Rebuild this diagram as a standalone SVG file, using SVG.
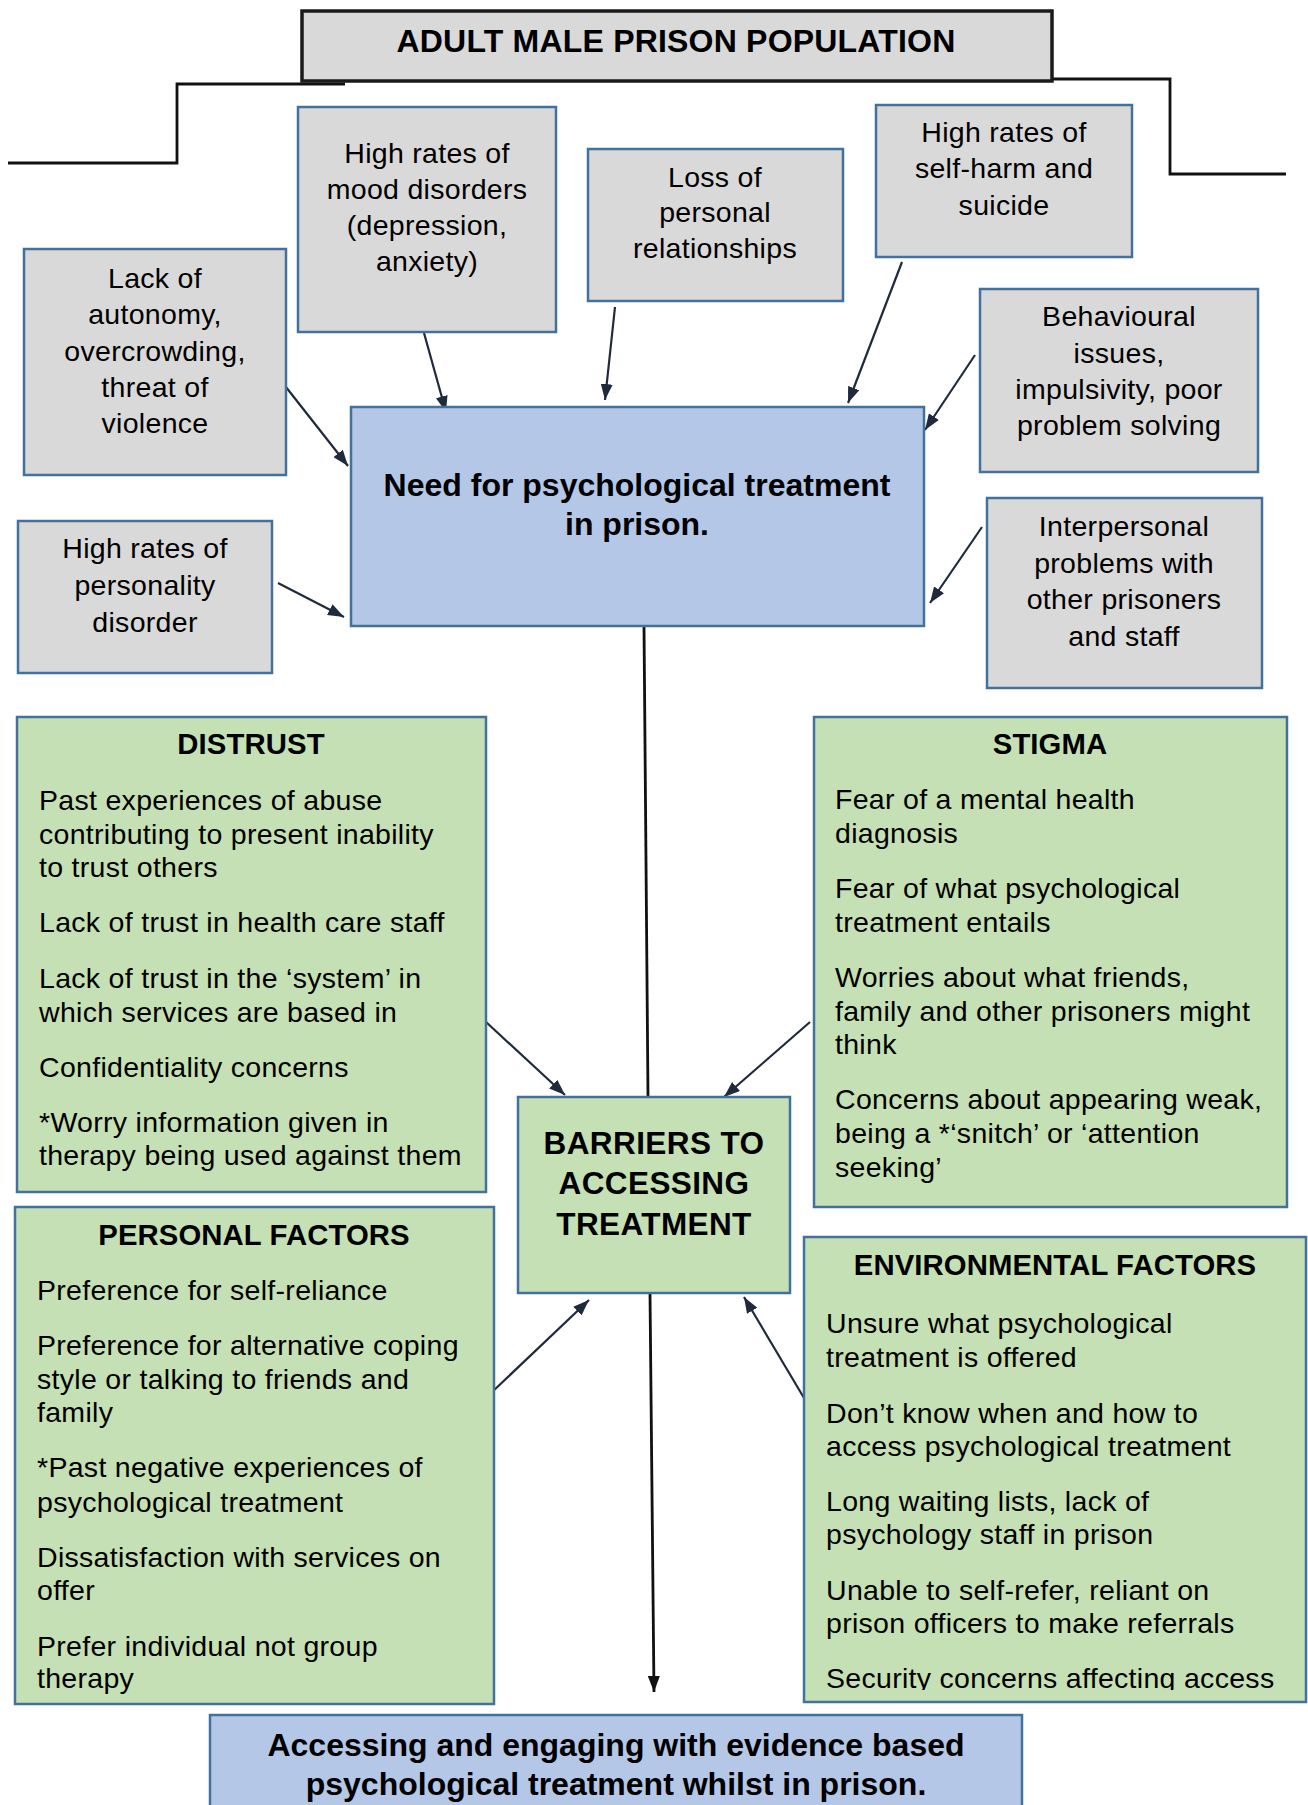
<svg xmlns="http://www.w3.org/2000/svg" width="1308" height="1805" viewBox="0 0 1308 1805">
<style>
.t{font-family:"Liberation Sans",Arial,sans-serif;font-size:28.5px;letter-spacing:0.3px;fill:#000}
.c{text-anchor:middle}
.h{font-family:"Liberation Sans",Arial,sans-serif;font-weight:bold;font-size:29.3px;letter-spacing:0.1px;fill:#000;text-anchor:middle}
.big{font-family:"Liberation Sans",Arial,sans-serif;font-weight:bold;font-size:32px;fill:#000;text-anchor:middle}
.gray{fill:#d9d9d9;stroke:#41719c;stroke-width:2.5}
.green{fill:#c5e0b4;stroke:#41719c;stroke-width:2.5}
.blue{fill:#b4c7e7;stroke:#41719c;stroke-width:2.5}
.arr{fill:none;stroke:#1f2a3c;stroke-width:2.2;marker-end:url(#ah)}
.blk{fill:none;stroke:#111;stroke-width:2.8}
</style>
<defs>
<marker id="ah" viewBox="0 0 16 12" refX="16" refY="6" markerWidth="16" markerHeight="12" markerUnits="userSpaceOnUse" orient="auto">
<path d="M0,0 L16,6 L0,12 z" fill="#1f2a3c"/>
</marker>
<marker id="ahb" viewBox="0 0 16 12" refX="16" refY="6" markerWidth="16" markerHeight="12" markerUnits="userSpaceOnUse" orient="auto">
<path d="M0,0 L16,6 L0,12 z" fill="#111"/>
</marker>
<clipPath id="envclip"><rect x="800" y="1230" width="510" height="460"/></clipPath>
</defs>
<rect width="1308" height="1805" fill="#fff"/>

<g id="connectors">
<polyline class="blk" points="8,163 177,163 177,84 345,84"/>
<polyline class="blk" points="1052,79 1170,79 1170,174 1286,174"/>
<line class="arr" x1="424" y1="333" x2="446" y2="412"/>
<line class="arr" x1="615" y1="307" x2="605" y2="400"/>
<line class="arr" x1="902" y1="262" x2="848" y2="403"/>
<line class="arr" x1="975" y1="355" x2="925" y2="430"/>
<line class="arr" x1="282" y1="382" x2="348" y2="466"/>
<line class="arr" x1="278" y1="583" x2="344" y2="617"/>
<line class="arr" x1="982" y1="527" x2="930" y2="603"/>
<line class="blk" x1="644" y1="626" x2="648" y2="1097"/>
<line class="arr" x1="486" y1="1022" x2="565" y2="1095"/>
<line class="arr" x1="810" y1="1022" x2="724" y2="1097"/>
<line class="arr" x1="491" y1="1393" x2="589" y2="1300"/>
<line class="arr" x1="804" y1="1398" x2="744" y2="1297"/>
<line class="blk" x1="650" y1="1293" x2="654" y2="1692" style="marker-end:url(#ahb)"/>
</g>

<g id="title">
<rect x="302" y="11" width="750" height="70" fill="#d9d9d9" stroke="#1a1a1a" stroke-width="3.5"/>
<text class="big" x="676" y="52" style="font-size:32px;letter-spacing:0.2px">ADULT MALE PRISON POPULATION</text>
</g>

<g id="mood">
<rect class="gray" x="298" y="107" width="258" height="225"/>
<text class="t c" x="427" y="163">High rates of</text>
<text class="t c" x="427" y="199">mood disorders</text>
<text class="t c" x="427" y="235">(depression,</text>
<text class="t c" x="427" y="271">anxiety)</text>
</g>

<g id="autonomy">
<rect class="gray" x="24" y="249" width="262" height="226"/>
<text class="t c" x="155" y="288">Lack of</text>
<text class="t c" x="155" y="324">autonomy,</text>
<text class="t c" x="155" y="361">overcrowding,</text>
<text class="t c" x="155" y="397">threat of</text>
<text class="t c" x="155" y="433">violence</text>
</g>

<g id="loss">
<rect class="gray" x="588" y="149" width="255" height="152"/>
<text class="t c" x="715" y="187">Loss of</text>
<text class="t c" x="715" y="222">personal</text>
<text class="t c" x="715" y="258">relationships</text>
</g>

<g id="selfharm">
<rect class="gray" x="876" y="105" width="256" height="152"/>
<text class="t c" x="1004" y="142">High rates of</text>
<text class="t c" x="1004" y="178">self-harm and</text>
<text class="t c" x="1004" y="215">suicide</text>
</g>

<g id="behavioural">
<rect class="gray" x="980" y="289" width="278" height="183"/>
<text class="t c" x="1119" y="326">Behavioural</text>
<text class="t c" x="1119" y="363">issues,</text>
<text class="t c" x="1119" y="399">impulsivity, poor</text>
<text class="t c" x="1119" y="435">problem solving</text>
</g>

<g id="personality">
<rect class="gray" x="18" y="521" width="254" height="152"/>
<text class="t c" x="145" y="558">High rates of</text>
<text class="t c" x="145" y="595">personality</text>
<text class="t c" x="145" y="632">disorder</text>
</g>

<g id="interpersonal">
<rect class="gray" x="987" y="498" width="275" height="190"/>
<text class="t c" x="1124" y="536">Interpersonal</text>
<text class="t c" x="1124" y="573">problems with</text>
<text class="t c" x="1124" y="609">other prisoners</text>
<text class="t c" x="1124" y="646">and staff</text>
</g>

<g id="need">
<rect class="blue" x="351" y="407" width="573" height="219"/>
<text class="big" x="637" y="496">Need for psychological treatment</text>
<text class="big" x="637" y="535">in prison.</text>
</g>

<g id="distrust">
<rect class="green" x="17" y="717" width="469" height="475"/>
<text class="h" x="251" y="754">DISTRUST</text>
<text class="t" x="39" y="810">Past experiences of abuse</text>
<text class="t" x="39" y="844">contributing to present inability</text>
<text class="t" x="39" y="877">to trust others</text>
<text class="t" x="39" y="932">Lack of trust in health care staff</text>
<text class="t" x="39" y="988">Lack of trust in the ‘system’ in</text>
<text class="t" x="39" y="1022">which services are based in</text>
<text class="t" x="39" y="1077">Confidentiality concerns</text>
<text class="t" x="39" y="1132">*Worry information given in</text>
<text class="t" x="39" y="1165">therapy being used against them</text>
</g>

<g id="stigma">
<rect class="green" x="814" y="717" width="473" height="490"/>
<text class="h" x="1050" y="754">STIGMA</text>
<text class="t" x="835" y="809">Fear of a mental health</text>
<text class="t" x="835" y="843">diagnosis</text>
<text class="t" x="835" y="898">Fear of what psychological</text>
<text class="t" x="835" y="932">treatment entails</text>
<text class="t" x="835" y="987">Worries about what friends,</text>
<text class="t" x="835" y="1021">family and other prisoners might</text>
<text class="t" x="835" y="1054">think</text>
<text class="t" x="835" y="1109">Concerns about appearing weak,</text>
<text class="t" x="835" y="1143">being a *‘snitch’ or ‘attention</text>
<text class="t" x="835" y="1177">seeking’</text>
</g>

<g id="barriers">
<rect class="green" x="518" y="1097" width="272" height="196"/>
<text class="big" x="654" y="1154" style="font-size:31.5px;letter-spacing:0.4px">BARRIERS TO</text>
<text class="big" x="654" y="1194" style="font-size:31.5px;letter-spacing:0.4px">ACCESSING</text>
<text class="big" x="654" y="1235" style="font-size:31.5px;letter-spacing:0.4px">TREATMENT</text>
</g>

<g id="personal">
<rect class="green" x="15" y="1207" width="479" height="497"/>
<text class="h" x="254" y="1245">PERSONAL FACTORS</text>
<text class="t" x="37" y="1300">Preference for self-reliance</text>
<text class="t" x="37" y="1355">Preference for alternative coping</text>
<text class="t" x="37" y="1389">style or talking to friends and</text>
<text class="t" x="37" y="1422">family</text>
<text class="t" x="37" y="1477">*Past negative experiences of</text>
<text class="t" x="37" y="1512">psychological treatment</text>
<text class="t" x="37" y="1567">Dissatisfaction with services on</text>
<text class="t" x="37" y="1600">offer</text>
<text class="t" x="37" y="1656">Prefer individual not group</text>
<text class="t" x="37" y="1688">therapy</text>
</g>

<g id="environmental">
<rect class="green" x="804" y="1237" width="502" height="465"/>
<text class="h" x="1055" y="1275">ENVIRONMENTAL FACTORS</text>
<g clip-path="url(#envclip)">
<text class="t" x="826" y="1333">Unsure what psychological</text>
<text class="t" x="826" y="1367">treatment is offered</text>
<text class="t" x="826" y="1423">Don’t know when and how to</text>
<text class="t" x="826" y="1456">access psychological treatment</text>
<text class="t" x="826" y="1511">Long waiting lists, lack of</text>
<text class="t" x="826" y="1544">psychology staff in prison</text>
<text class="t" x="826" y="1600">Unable to self-refer, reliant on</text>
<text class="t" x="826" y="1633">prison officers to make referrals</text>
<text class="t" x="826" y="1688">Security concerns affecting access</text>
</g>
</g>

<g id="outcome">
<rect class="blue" x="210" y="1715" width="812" height="120"/>
<text class="big" x="616" y="1756">Accessing and engaging with evidence based</text>
<text class="big" x="616" y="1795">psychological treatment whilst in prison.</text>
</g>
</svg>
